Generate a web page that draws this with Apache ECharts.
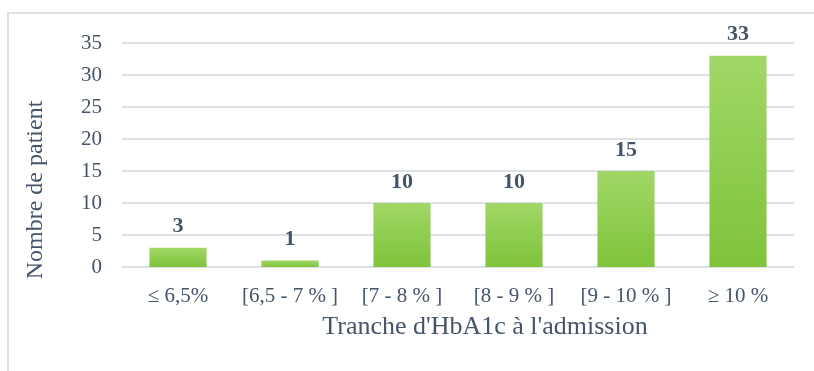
<!DOCTYPE html>
<html>
<head>
<meta charset="utf-8">
<script src="https://cdn.jsdelivr.net/npm/echarts@6/dist/echarts.min.js"></script>
<style>
  html, body { margin: 0; padding: 0; background: #ffffff; }
  #chart { width: 814px; height: 371px; }
</style>
</head>
<body>
<div id="chart"></div>
<script>
// HbA1c ranges at admission and number of patients in each
const categories = ['\u2264 6,5%', '[6,5 - 7 % ]', '[7 - 8 % ]', '[8 - 9 % ]', '[9 - 10 % ]', '\u2265 10 %'];
const patients = [3, 1, 10, 10, 15, 33];
const yTicks = { min: 0, max: 35, interval: 5 };
const xTitle = "Tranche d'HbA1c \u00e0 l'admission";
const yTitle = 'Nombre de patient';

const FONT = '"Liberation Serif", "Times New Roman", serif';
const TEXT = '#44546a';
const LINE = '#dde0e6';

const chart = echarts.init(document.getElementById('chart'), null, { renderer: 'canvas' });

chart.setOption({
  backgroundColor: '#ffffff',
  animation: false,
  grid: { left: 122, right: 20, top: 43, bottom: 104, containLabel: false },
  graphic: [
    {
      type: 'rect',
      shape: { x: 8, y: 13, width: 820, height: 380 },
      style: { fill: 'none', stroke: LINE, lineWidth: 2 },
      silent: true, z: -1
    },
    {
      type: 'text',
      x: 485, y: 327,
      style: { text: xTitle, font: '26px ' + FONT, fill: TEXT, textAlign: 'center', textVerticalAlign: 'middle' }
    },
    {
      type: 'text',
      x: 36, y: 190,
      rotation: Math.PI / 2,
      style: { text: yTitle, font: '24px ' + FONT, fill: TEXT, textAlign: 'center', textVerticalAlign: 'middle' }
    }
  ],
  xAxis: {
    type: 'category',
    data: categories,
    axisTick: { show: false },
    axisLine: { show: true, lineStyle: { color: LINE, width: 2 } },
    axisLabel: { color: TEXT, fontFamily: FONT, fontSize: 21, margin: 19, interval: 0 }
  },
  yAxis: {
    type: 'value',
    min: yTicks.min, max: yTicks.max, interval: yTicks.interval,
    axisLine: { show: false },
    axisTick: { show: false },
    axisLabel: { color: TEXT, fontFamily: FONT, fontSize: 21, margin: 20 },
    splitLine: { lineStyle: { color: LINE, width: 2 } }
  },
  series: [{
    type: 'bar',
    data: patients,
    barWidth: '51%',
    itemStyle: {
      color: new echarts.graphic.LinearGradient(0, 0, 0, 1, [
        { offset: 0, color: '#a0d866' },
        { offset: 1, color: '#7fc33b' }
      ])
    },
    label: {
      show: true,
      position: 'top',
      distance: 10,
      color: TEXT,
      fontFamily: FONT,
      fontWeight: 'bold',
      fontSize: 22
    }
  }]
});
</script>
</body>
</html>
